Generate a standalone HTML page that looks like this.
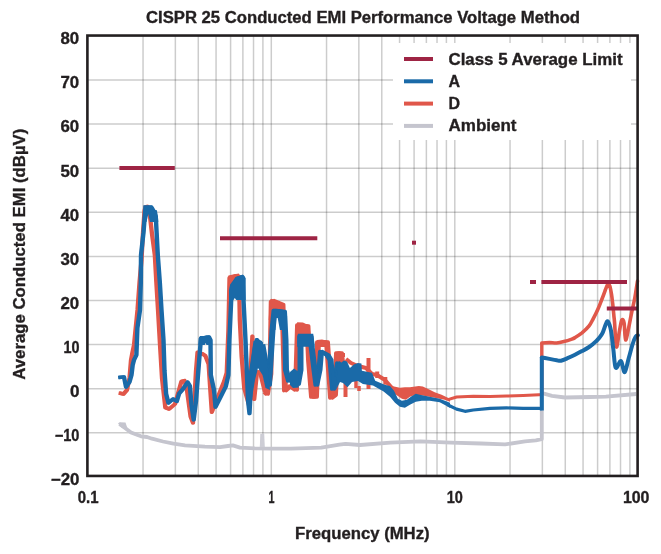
<!DOCTYPE html>
<html><head><meta charset="utf-8"><style>
html,body{margin:0;padding:0;background:#fff;width:661px;height:554px;overflow:hidden}
svg{display:block;will-change:transform}
text{font-family:"Liberation Sans",sans-serif;font-weight:bold;fill:#231f20;stroke:#231f20;stroke-width:0.35px}
</style></head><body>
<svg width="661" height="554" viewBox="0 0 661 554">
<text x="146" y="23" font-size="16" textLength="434" lengthAdjust="spacingAndGlyphs">CISPR 25 Conducted EMI Performance Voltage Method</text>
<g stroke="#000" stroke-opacity="0.2" stroke-width="1.5"><line x1="143.04" y1="35.55" x2="143.04" y2="476.0"/><line x1="175.35" y1="35.55" x2="175.35" y2="476.0"/><line x1="198.28" y1="35.55" x2="198.28" y2="476.0"/><line x1="216.06" y1="35.55" x2="216.06" y2="476.0"/><line x1="230.59" y1="35.55" x2="230.59" y2="476.0"/><line x1="242.88" y1="35.55" x2="242.88" y2="476.0"/><line x1="253.52" y1="35.55" x2="253.52" y2="476.0"/><line x1="262.90" y1="35.55" x2="262.90" y2="476.0"/><line x1="326.54" y1="35.55" x2="326.54" y2="476.0"/><line x1="358.85" y1="35.55" x2="358.85" y2="476.0"/><line x1="381.78" y1="35.55" x2="381.78" y2="476.0"/><line x1="399.56" y1="35.55" x2="399.56" y2="476.0"/><line x1="414.09" y1="35.55" x2="414.09" y2="476.0"/><line x1="426.38" y1="35.55" x2="426.38" y2="476.0"/><line x1="437.02" y1="35.55" x2="437.02" y2="476.0"/><line x1="446.40" y1="35.55" x2="446.40" y2="476.0"/><line x1="510.04" y1="35.55" x2="510.04" y2="476.0"/><line x1="542.35" y1="35.55" x2="542.35" y2="476.0"/><line x1="565.28" y1="35.55" x2="565.28" y2="476.0"/><line x1="583.06" y1="35.55" x2="583.06" y2="476.0"/><line x1="597.59" y1="35.55" x2="597.59" y2="476.0"/><line x1="609.88" y1="35.55" x2="609.88" y2="476.0"/><line x1="620.52" y1="35.55" x2="620.52" y2="476.0"/><line x1="629.90" y1="35.55" x2="629.90" y2="476.0"/><line x1="271.30" y1="35.55" x2="271.30" y2="476.0"/><line x1="454.80" y1="35.55" x2="454.80" y2="476.0"/><line x1="87.4" y1="432.80" x2="637.6" y2="432.80"/><line x1="87.4" y1="388.70" x2="637.6" y2="388.70"/><line x1="87.4" y1="344.60" x2="637.6" y2="344.60"/><line x1="87.4" y1="300.50" x2="637.6" y2="300.50"/><line x1="87.4" y1="256.40" x2="637.6" y2="256.40"/><line x1="87.4" y1="212.30" x2="637.6" y2="212.30"/><line x1="87.4" y1="168.20" x2="637.6" y2="168.20"/><line x1="87.4" y1="124.10" x2="637.6" y2="124.10"/><line x1="87.4" y1="80.00" x2="637.6" y2="80.00"/></g>
<g fill="none" stroke-linejoin="round" stroke-linecap="butt"><polyline stroke="#c5c5ce" stroke-width="3.8" points="119.5,424.0 125.0,428.0 131.0,432.5 141.0,436.3 147.0,437.0 152.0,438.7 163.0,441.5 173.5,443.7 185.0,445.3 205.0,446.6 220.0,447.2 228.0,446.0 232.8,445.4 240.0,447.6 254.7,448.3 272.9,448.6 291.0,448.6 321.3,447.7 339.4,444.7 345.5,443.8 360.0,445.0 390.3,442.6 420.5,441.4 450.8,442.6 481.0,443.5 505.2,444.4 525.0,441.4 535.8,440.3 541.8,439.2 541.8,393.7 544.0,393.7 552.0,395.8 565.0,397.5 590.0,397.0 605.9,396.6 636.2,394.0"/>
<polygon fill="#cdcdd5" stroke="none" points="259.8,447.0 260.3,434.0 264.2,433.5 264.8,447.0"/>
<polygon fill="#c5c5ce" stroke="none" points="118.0,423.5 119.5,422.3 125.5,422.5 127.5,428.5 122.0,428.0"/>
<polyline stroke="#e0574a" stroke-width="3.5" points="119.0,393.0 123.5,394.0 127.0,390.0 129.5,378.0 131.0,360.0 132.5,352.0 134.0,345.0 137.5,310.0 139.5,282.6 141.5,260.0 143.0,232.5 144.5,211.0 145.5,207.0 147.5,206.5 149.8,214.8 152.0,234.0 154.8,255.0 156.3,282.0 158.0,310.0 160.0,345.0 162.0,378.3 165.3,407.5 169.2,409.0 175.0,404.0 181.4,381.4 184.5,380.6 186.8,389.0 190.6,416.7 193.0,422.8 196.0,370.7 197.5,352.3 202.7,354.0 205.3,355.7 208.6,364.2 210.3,390.0 211.8,412.2 217.3,398.5 224.1,381.4 226.7,372.8 228.4,330.0 229.5,278.0 235.8,276.0 239.0,276.5 239.8,320.0 241.6,356.0 244.3,388.5 249.0,405.0 252.4,336.2 253.3,392.0 254.2,399.3 257.0,372.0 260.0,372.0 265.0,392.0" transform="translate(-0.4,0)"/>
<polyline stroke="#e0574a" stroke-width="3.5" points="119.0,393.0 123.5,394.0 127.0,390.0 129.5,378.0 131.0,360.0 132.5,352.0 134.0,345.0 137.5,310.0 139.5,282.6 141.5,260.0 143.0,232.5 144.5,211.0 145.5,207.0 147.5,206.5 149.8,214.8 152.0,234.0 154.8,255.0 156.3,282.0 158.0,310.0 160.0,345.0 162.0,378.3 165.3,407.5 169.2,409.0 175.0,404.0 181.4,381.4 184.5,380.6 186.8,389.0 190.6,416.7 193.0,422.8 196.0,370.7 197.5,352.3 202.7,354.0 205.3,355.7 208.6,364.2 210.3,390.0 211.8,412.2 217.3,398.5 224.1,381.4 226.7,372.8 228.4,330.0 229.5,278.0 235.8,276.0 239.0,276.5 239.8,320.0 241.6,356.0 244.3,388.5 249.0,405.0 252.4,336.2 253.3,392.0 254.2,399.3 257.0,372.0 260.0,372.0 265.0,392.0" transform="translate(0.4,0)"/>
<polyline stroke="#e0574a" stroke-width="3.5" points="265.0,392.0 267.0,394.0 270.4,374.0 271.7,301.7 272.9,300.5 282.5,304.5 283.5,336.8 285.0,390.7 290.4,386.0 296.0,390.0 298.0,325.0 307.5,326.0 309.0,360.0 312.0,397.0 316.0,397.0 318.0,342.0 327.0,342.0 329.0,370.0 331.0,398.0 335.0,395.0 337.0,353.0 341.0,353.0 344.0,380.0" transform="translate(-1.2,0)"/>
<polyline stroke="#e0574a" stroke-width="3.5" points="265.0,392.0 267.0,394.0 270.4,374.0 271.7,301.7 272.9,300.5 282.5,304.5 283.5,336.8 285.0,390.7 290.4,386.0 296.0,390.0 298.0,325.0 307.5,326.0 309.0,360.0 312.0,397.0 316.0,397.0 318.0,342.0 327.0,342.0 329.0,370.0 331.0,398.0 335.0,395.0 337.0,353.0 341.0,353.0 344.0,380.0" transform="translate(1.2,0)"/>
<polyline stroke="#e0574a" stroke-width="4" points="340.0,355.0 345.0,355.0"/>
<polyline stroke="#e0574a" stroke-width="4" points="345.5,372.0 345.5,397.0"/>
<polyline stroke="#e0574a" stroke-width="4" points="346.0,359.0 351.0,363.0 358.0,366.0 366.0,368.0 372.0,374.0 377.0,375.0 385.0,380.0 392.0,388.0"/>
<polyline stroke="#e0574a" stroke-width="3.5" points="356.0,378.0 356.0,388.0"/>
<polyline stroke="#e0574a" stroke-width="3.5" points="359.0,386.0 359.0,391.0"/>
<polyline stroke="#e0574a" stroke-width="4" points="368.5,358.0 368.5,372.0"/>
<polyline stroke="#e0574a" stroke-width="4" points="368.5,384.0 368.5,389.0"/>
<polyline stroke="#e0574a" stroke-width="4" points="377.2,371.5 377.2,378.0"/>
<polyline stroke="#e0574a" stroke-width="4" points="385.3,377.0 385.3,384.7"/>
<polygon fill="#e0574a" stroke="none" points="228.0,284.0 228.4,275.5 233.0,274.5 238.8,273.5 240.0,276.0 240.0,284.0"/>
<polygon fill="#e0574a" stroke="none" points="268.7,320.0 269.5,305.0 271.9,299.7 274.8,300.0 278.4,301.5 282.8,304.0 284.0,309.0 275.0,309.0 271.9,320.0"/>
<polygon fill="#e0574a" stroke="none" points="295.8,340.0 296.5,325.0 297.2,322.2 303.0,322.5 309.5,326.0 310.5,334.0 297.2,334.0"/>
<polygon fill="#e0574a" stroke="none" points="316.5,352.0 317.0,340.0 322.0,339.5 328.4,341.0 329.0,347.0 317.0,347.0"/>
<polygon fill="#e0574a" stroke="none" points="390.0,384.9 394.0,386.4 399.9,387.8 404.9,387.3 409.9,387.3 418.8,385.9 422.8,386.4 429.7,389.8 434.7,392.3 441.6,394.8 450.0,398.8 450.0,401.7 444.6,399.8 434.7,397.8 423.8,395.8 415.8,394.8 409.9,396.8 405.9,399.8 401.9,398.8 396.0,394.8 390.0,392.0"/>
<polyline stroke="#e0574a" stroke-width="3.0" points="448.0,399.6 456.6,397.0 473.3,396.3 490.0,396.6 506.6,396.1 523.2,395.5 539.0,394.8 541.8,394.8"/>
<polyline stroke="#e0574a" stroke-width="3.4" points="541.8,395.0 541.8,343.0"/>
<path stroke="#e0574a" stroke-width="3.6" stroke-linecap="round" d="M541.8,343.0 C543.1,342.9 546.9,342.6 549.4,342.6 C551.9,342.6 554.3,343.2 556.7,343.0 C559.1,342.8 561.5,342.2 563.9,341.6 C566.3,341.0 569.2,340.1 571.1,339.4 C573.0,338.7 573.2,338.7 575.0,337.6 C576.8,336.5 579.6,334.8 582.0,332.9 C584.4,330.9 587.2,328.3 589.1,325.9 C591.0,323.5 591.9,321.2 593.4,318.4 C594.9,315.6 596.6,312.2 598.0,309.0 C599.4,305.8 600.8,302.1 602.0,299.0 C603.2,295.9 604.4,292.6 605.2,290.3 C606.1,288.1 606.6,286.6 607.1,285.5 C607.6,284.4 607.8,283.8 608.3,283.9 C608.8,284.0 609.4,284.6 609.9,286.3 C610.4,288.0 611.0,291.4 611.5,294.3 C612.0,297.2 612.3,300.2 612.7,303.8 C613.1,307.4 613.6,312.8 613.9,316.0 C614.2,319.2 614.2,317.8 614.6,323.0 C615.0,328.2 615.6,345.7 616.4,347.0 C617.2,348.3 618.6,335.2 619.5,330.7 C620.4,326.2 621.0,321.3 621.8,320.0 C622.6,318.7 623.5,319.7 624.1,323.0 C624.7,326.3 624.8,339.1 625.6,339.9 C626.4,340.7 627.7,332.2 628.7,327.6 C629.7,323.0 630.7,317.2 631.7,312.3 C632.7,307.4 633.8,303.2 634.8,298.0 C635.8,292.8 637.0,283.8 637.5,281.0"/>
<polyline stroke="#1a6aa8" stroke-width="3.6" points="118.5,377.5 124.0,377.0 126.0,387.0 129.5,382.0 131.5,375.0 132.7,365.0 134.0,360.0 136.4,355.0 137.4,328.0 140.0,310.0 140.8,282.6 141.0,255.0 143.5,232.5 145.2,211.0 146.5,207.5 151.5,207.5 153.5,211.0 155.8,217.0 157.8,255.0 159.8,282.0 161.5,310.0 163.5,340.0 164.5,370.7 166.1,393.7 168.4,402.9 173.0,399.0 176.8,401.3 179.1,393.7 183.0,389.0 187.6,382.2 189.9,386.0 191.4,404.4 193.7,419.8 196.0,401.3 198.0,375.0 200.0,350.0 201.0,338.5 205.5,337.5 209.0,337.0 210.5,340.0 210.8,375.0 214.0,390.0 215.5,407.0 220.7,396.8 225.8,386.5 228.4,375.0 229.4,340.0 231.2,300.0 232.0,286.0 237.0,278.5 242.5,277.0 243.5,300.0 245.5,340.0 248.0,400.0 249.5,413.5 251.5,374.0 255.1,347.0 256.9,339.8 259.6,343.4 262.3,344.3" transform="translate(-0.4,0)"/>
<polyline stroke="#1a6aa8" stroke-width="3.6" points="118.5,377.5 124.0,377.0 126.0,387.0 129.5,382.0 131.5,375.0 132.7,365.0 134.0,360.0 136.4,355.0 137.4,328.0 140.0,310.0 140.8,282.6 141.0,255.0 143.5,232.5 145.2,211.0 146.5,207.5 151.5,207.5 153.5,211.0 155.8,217.0 157.8,255.0 159.8,282.0 161.5,310.0 163.5,340.0 164.5,370.7 166.1,393.7 168.4,402.9 173.0,399.0 176.8,401.3 179.1,393.7 183.0,389.0 187.6,382.2 189.9,386.0 191.4,404.4 193.7,419.8 196.0,401.3 198.0,375.0 200.0,350.0 201.0,338.5 205.5,337.5 209.0,337.0 210.5,340.0 210.8,375.0 214.0,390.0 215.5,407.0 220.7,396.8 225.8,386.5 228.4,375.0 229.4,340.0 231.2,300.0 232.0,286.0 237.0,278.5 242.5,277.0 243.5,300.0 245.5,340.0 248.0,400.0 249.5,413.5 251.5,374.0 255.1,347.0 256.9,339.8 259.6,343.4 262.3,344.3" transform="translate(0.4,0)"/>
<polyline stroke="#1a6aa8" stroke-width="3.6" points="262.3,344.3 265.0,359.6 267.7,377.7 269.0,385.0 272.5,330.0 274.5,310.5 284.0,311.5 285.5,340.0 286.0,370.0 289.0,381.0 294.0,378.0 298.0,384.0 300.5,370.0 300.5,337.0 306.0,336.0 310.5,336.5 312.0,350.0 314.5,370.0 316.4,385.0 319.5,370.0 321.0,351.5 327.5,355.0 330.5,360.0 333.0,389.0 336.0,375.0 338.0,363.0 341.0,367.0" transform="translate(-1.2,0)"/>
<polyline stroke="#1a6aa8" stroke-width="3.6" points="262.3,344.3 265.0,359.6 267.7,377.7 269.0,385.0 272.5,330.0 274.5,310.5 284.0,311.5 285.5,340.0 286.0,370.0 289.0,381.0 294.0,378.0 298.0,384.0 300.5,370.0 300.5,337.0 306.0,336.0 310.5,336.5 312.0,350.0 314.5,370.0 316.4,385.0 319.5,370.0 321.0,351.5 327.5,355.0 330.5,360.0 333.0,389.0 336.0,375.0 338.0,363.0 341.0,367.0" transform="translate(1.2,0)"/>
<polygon fill="#1a6aa8" stroke="none" points="338.0,362.0 340.0,363.4 344.0,360.4 347.0,361.4 349.9,367.9 353.9,364.4 357.9,362.9 361.4,363.4 361.9,370.8 366.8,371.8 372.0,372.8 375.2,380.7 384.7,384.7 390.0,385.9 394.0,390.8 397.9,398.8 401.9,400.7 406.9,399.8 410.9,396.8 415.8,393.8 419.8,394.8 429.7,396.8 439.7,398.8 450.0,402.7 450.0,407.7 439.7,402.2 429.7,400.7 421.8,400.7 415.8,401.7 409.9,404.7 404.9,407.7 399.9,406.7 395.0,402.7 390.0,396.8 383.6,391.4 373.0,385.5 362.9,384.0 358.1,381.0 352.0,382.0 347.5,387.2 343.0,383.0 340.0,382.0 336.0,390.0"/>
<polygon fill="#1a6aa8" stroke="none" points="142.8,222.0 143.3,205.3 152.5,205.3 153.0,209.8 156.9,210.3 157.9,216.6 158.3,222.0 150.0,222.0 148.3,214.1 146.5,222.0"/>
<polygon fill="#1a6aa8" stroke="none" points="198.4,345.0 198.8,338.0 200.0,336.0 205.0,336.0 207.0,335.5 209.5,337.5 212.0,338.5 212.3,345.0 206.5,345.0 205.6,343.0 204.7,345.0"/>
<polygon fill="#1a6aa8" stroke="none" points="229.0,300.0 229.0,290.0 230.5,283.9 237.0,276.7 242.8,274.5 245.7,278.0 245.7,300.0 236.3,300.0 234.8,298.0 233.4,300.0"/>
<polygon fill="#1a6aa8" stroke="none" points="271.8,330.0 271.9,318.0 273.4,308.7 279.0,309.0 284.9,311.6 287.1,316.0 287.1,330.0 279.9,330.0 277.7,318.0 275.9,318.0 275.5,330.0"/>
<polygon fill="#1a6aa8" stroke="none" points="297.2,346.8 297.2,336.0 298.0,333.8 313.2,333.8 314.0,340.0 314.5,346.8"/>
<polygon fill="#1a6aa8" stroke="none" points="290.0,372.0 294.0,368.5 298.7,372.0 298.7,387.4 293.0,388.0 290.0,385.0"/>
<polygon fill="#1a6aa8" stroke="none" points="249.0,400.0 249.0,372.0 253.5,341.0 258.5,339.5 262.0,341.0 265.5,350.0 268.0,368.0 270.0,390.0 265.5,388.0 262.5,375.0 258.0,368.0 255.0,380.0 252.0,398.0"/>
<polyline stroke="#1a6aa8" stroke-width="3.2" points="448.0,405.0 456.6,409.1 465.0,411.3 473.3,410.0 490.0,408.3 506.6,407.9 523.2,408.3 539.0,408.3 541.8,409.0"/>
<polyline stroke="#1a6aa8" stroke-width="4" points="541.8,410.5 541.8,357.0"/>
<path stroke="#1a6aa8" stroke-width="4.0" stroke-linecap="round" d="M541.8,357.5 C543.1,357.7 546.9,358.4 549.4,358.9 C551.9,359.4 554.8,360.0 556.7,360.3 C558.6,360.6 559.2,361.1 561.0,360.7 C562.8,360.3 565.2,359.2 567.5,358.2 C569.8,357.2 572.6,355.9 575.0,354.7 C577.4,353.5 579.6,352.4 582.0,351.1 C584.4,349.8 586.7,348.6 589.1,347.0 C591.5,345.4 594.1,343.3 596.2,341.2 C598.4,339.1 600.4,336.9 602.0,334.1 C603.6,331.4 604.6,326.8 605.6,324.7 C606.6,322.6 607.1,320.5 608.0,321.5 C608.9,322.5 610.1,326.1 611.0,330.7 C611.9,335.3 612.5,343.0 613.3,349.1 C614.1,355.2 614.5,365.5 615.6,367.5 C616.8,369.5 619.2,362.1 620.2,361.3 C621.2,360.5 621.0,361.1 621.8,362.9 C622.6,364.7 623.6,372.9 624.8,372.1 C625.9,371.3 627.4,362.9 628.7,358.3 C630.0,353.7 631.4,348.1 632.5,344.5 C633.6,340.9 634.7,338.3 635.6,336.8 C636.5,335.3 637.5,335.6 637.9,335.3"/></g>
<g stroke="#9e2444" stroke-width="4"><line x1="119.4" y1="168.0" x2="174.8" y2="168.0"/><line x1="220.0" y1="238.2" x2="317.3" y2="238.2"/><line x1="412.0" y1="242.7" x2="416.0" y2="242.7"/><line x1="530.0" y1="282.0" x2="536.0" y2="282.0"/><line x1="541.4" y1="282.0" x2="627.0" y2="282.0"/><line x1="606.8" y1="308.5" x2="637.0" y2="308.5"/></g>
<rect x="393" y="43" width="238" height="97" fill="#fff"/>
<g stroke-width="4">
<line x1="404" y1="59" x2="433" y2="59" stroke="#9e2444"/>
<line x1="404" y1="81.3" x2="433" y2="81.3" stroke="#1a6aa8"/>
<line x1="404" y1="103.6" x2="433" y2="103.6" stroke="#e0574a"/>
<line x1="404" y1="125.9" x2="433" y2="125.9" stroke="#c5c5ce"/>
</g>
<g font-size="16">
<text x="448.5" y="65" textLength="174" lengthAdjust="spacingAndGlyphs">Class 5 Average Limit</text>
<text x="448.5" y="86.8">A</text>
<text x="448.5" y="108.7">D</text>
<text x="448.5" y="130.6" textLength="68" lengthAdjust="spacingAndGlyphs">Ambient</text>
</g>
<rect x="87.4" y="35.55" width="550.2" height="440.4" fill="none" stroke="#231f20" stroke-width="2.6"/>
<g font-size="16"><text x="50.8" y="485.2" textLength="28.6" lengthAdjust="spacingAndGlyphs">&#8722;20</text><text x="54.7" y="441.1" textLength="24.7" lengthAdjust="spacingAndGlyphs">&#8722;10</text><text x="69.9" y="397.0" textLength="9.5" lengthAdjust="spacingAndGlyphs">0</text><text x="63.4" y="352.9" textLength="16.0" lengthAdjust="spacingAndGlyphs">10</text><text x="60.5" y="308.8" textLength="18.7" lengthAdjust="spacingAndGlyphs">20</text><text x="60.5" y="264.7" textLength="18.7" lengthAdjust="spacingAndGlyphs">30</text><text x="60.5" y="220.6" textLength="18.7" lengthAdjust="spacingAndGlyphs">40</text><text x="60.5" y="176.5" textLength="18.7" lengthAdjust="spacingAndGlyphs">50</text><text x="60.5" y="132.4" textLength="18.7" lengthAdjust="spacingAndGlyphs">60</text><text x="60.5" y="88.3" textLength="18.7" lengthAdjust="spacingAndGlyphs">70</text><text x="60.5" y="44.2" textLength="18.7" lengthAdjust="spacingAndGlyphs">80</text></g>
<g font-size="16"><text x="77.8" y="503" textLength="20.8" lengthAdjust="spacingAndGlyphs">0.1</text><text x="268.6" y="503" textLength="6.0" lengthAdjust="spacingAndGlyphs">1</text><text x="446.8" y="503" textLength="16.1" lengthAdjust="spacingAndGlyphs">10</text><text x="622.9" y="503" textLength="26.6" lengthAdjust="spacingAndGlyphs">100</text></g>
<text x="295" y="538.5" font-size="16" textLength="134.6" lengthAdjust="spacingAndGlyphs">Frequency (MHz)</text>
<text transform="translate(25,379.7) rotate(-90)" font-size="16" textLength="251" lengthAdjust="spacingAndGlyphs">Average Conducted EMI (dBµV)</text>
</svg>
</body></html>
